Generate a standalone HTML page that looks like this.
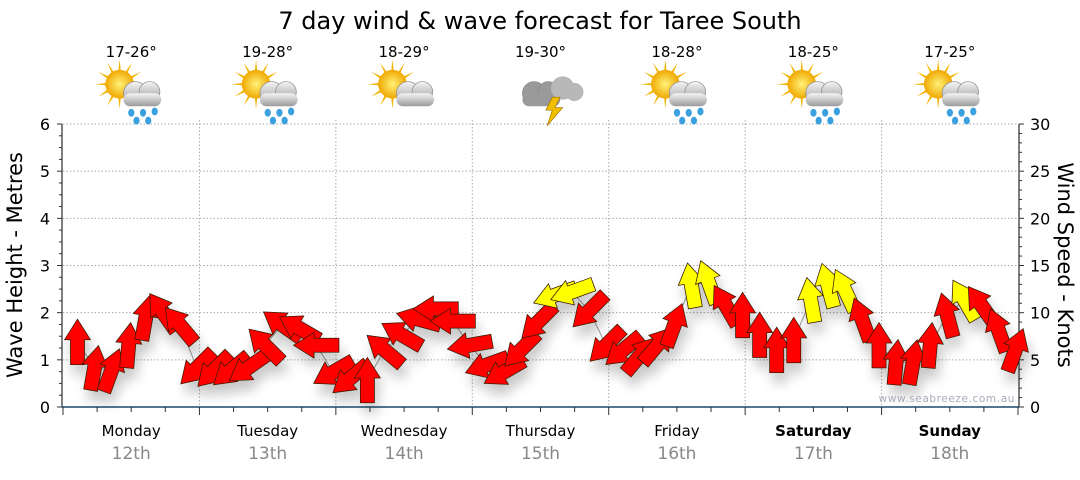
<!DOCTYPE html>
<html><head><meta charset="utf-8">
<style>
html,body{margin:0;padding:0;background:#fff;}
body{width:1080px;height:475px;overflow:hidden;font-family:"Liberation Sans",sans-serif;}
text{font-family:"DejaVu Sans","Liberation Sans",sans-serif;}
</style></head>
<body>
<svg id="chart" width="1080" height="475" xmlns="http://www.w3.org/2000/svg">
<defs>
<filter id="shadow" x="-20%" y="-20%" width="140%" height="160%">
<feGaussianBlur in="SourceAlpha" stdDeviation="6"/>
<feOffset dx="3" dy="10"/>
<feComponentTransfer><feFuncA type="linear" slope="0.22"/></feComponentTransfer>
<feMerge><feMergeNode/><feMergeNode in="SourceGraphic"/></feMerge>
</filter>
<radialGradient id="sunG" cx="0.5" cy="0.5" r="0.5"><stop offset="0" stop-color="#fff27a"/><stop offset="1" stop-color="#f0a800"/></radialGradient>
<linearGradient id="cloudG" x1="0" y1="0" x2="0" y2="1"><stop offset="0" stop-color="#f4f4f4"/><stop offset="1" stop-color="#9a9a9a"/></linearGradient>
</defs>
<text x="540" y="29" text-anchor="middle" font-size="24" fill="#000">7 day wind &amp; wave forecast for Taree South</text>
<g id="grid"></g>
<g id="days"></g>
<g id="axes"></g>
<g id="wl"></g>
<g id="arrows" filter="url(#shadow)"></g>
<text x="1015" y="402" text-anchor="end" font-size="10.5" fill="#aab" letter-spacing="0.6">www.seabreeze.com.au</text>
<text transform="translate(22,265) rotate(-90)" text-anchor="middle" font-size="21" fill="#000">Wave Height - Metres</text>
<text transform="translate(1058,265) rotate(90)" text-anchor="middle" font-size="21" fill="#000">Wind Speed - Knots</text>
</svg>
<script>
const dayNames = ["Monday","Tuesday","Wednesday","Thursday","Friday","Saturday","Sunday"];
const dayDates = ["12th","13th","14th","15th","16th","17th","18th"];
const dayBold = [false,false,false,false,false,true,true];
const tempRanges = ["17-26°","19-28°","18-29°","19-30°","18-28°","18-25°","17-25°"];
const weatherIcons = ["rain","rain","cloud","storm","rain","rain","rain"];
const waveTicks = [0,1,2,3,4,5,6];
const windTicks = [0,5,10,15,20,25,30];
// wave height (m) per 3-hour step
const waveHeights = [1.38,0.83,0.78,1.31,1.89,2.01,1.74,0.83,0.78,0.78,0.83,1.31,1.74,1.67,1.31,0.74,0.61,0.57,1.21,1.53,1.86,2.08,1.82,1.31,0.89,0.74,1.21,1.8,2.37,2.44,2.04,1.31,1.21,1.1,1.31,1.74,2.58,2.65,2.16,1.95,1.53,1.21,1.42,2.27,2.58,2.48,1.86,1.31,0.95,0.95,1.31,1.95,2.27,2.16,1.63,1.21];
// arrow pointing direction, degrees clockwise from up
const windDirs = [0,10,20,5,10,-35,-40,225,225,230,235,-45,-55,-60,-90,-120,-130,0,-50,-60,-75,-90,-90,-100,-110,-120,-135,-135,-110,-110,-135,-135,-130,40,40,20,-10,-20,-30,0,0,0,0,-10,-15,-25,-20,0,5,10,5,-15,-30,-35,-20,20];
const windColors = ["R","R","R","R","R","R","R","R","R","R","R","R","R","R","R","R","R","R","R","R","R","R","R","R","R","R","R","R","Y","Y","R","R","R","R","R","R","Y","Y","R","R","R","R","R","Y","Y","Y","R","R","R","R","R","R","Y","R","R","R"];

const NS="http://www.w3.org/2000/svg";
const X0=63,X1=1018,Y0=407,Y1=124;
const nSteps=56;
function xStep(i){return X0+(X1-X0)/nSteps*(i+0.85);}
function yWave(m){return Y0-(m/6)*(Y0-Y1);}
function yWind(k){return Y0-(k/30)*(Y0-Y1);}
function xDay(d){return X0+(X1-X0)/7*d;}
function el(tag,attrs,parent){const e=document.createElementNS(NS,tag);for(const k in attrs)e.setAttribute(k,attrs[k]);parent.appendChild(e);return e;}
const grid=document.getElementById('grid'),axes=document.getElementById('axes'),days=document.getElementById('days'),arrows=document.getElementById('arrows');

waveTicks.forEach(v=>{if(v===0)return;const g=el('line',{x1:X0,x2:X1,y1:yWave(v),y2:yWave(v),stroke:'#aaa','stroke-dasharray':'1.5,2'},grid);

});
for(let d=1;d<7;d++){const g=el('line',{x1:xDay(d),x2:xDay(d),y1:Y1-4,y2:Y0,stroke:'#aaa','stroke-dasharray':'1.5,2'},grid);

}

el('line',{x1:X0-1,x2:X0-1,y1:Y1,y2:Y0,stroke:'#000'},axes);
for(let i=0;i<=24;i++){const y=yWave(i/4);el('line',{x1:X0-(i%4===0?6:4),x2:X0-1,y1:y,y2:y,stroke:'#333'},axes);}
waveTicks.forEach(v=>{const t=el('text',{x:X0-13,y:yWave(v)+6,'text-anchor':'end','font-size':16,fill:'#000'},axes);t.textContent=v;

});
el('line',{x1:X1+1,x2:X1+1,y1:Y1,y2:Y0,stroke:'#000'},axes);
for(let k=0;k<=30;k++){const y=yWind(k);el('line',{x1:X1+1,x2:X1+(k%5===0?6:4),y1:y,y2:y,stroke:'#333'},axes);}
windTicks.forEach(v=>{const t=el('text',{x:X1+12,y:yWind(v)+6,'text-anchor':'start','font-size':16,fill:'#000'},axes);t.textContent=v;

});
el('line',{x1:X0-1,x2:X1+1,y1:Y0,y2:Y0,stroke:'#1a4a6e','stroke-width':1.5},axes);
for(let q=0;q<=28;q++){const x=X0+(X1-X0)/28*q;el('line',{x1:x,x2:x,y1:Y0,y2:Y0+(q%4===0?8:5),stroke:'#333'},axes);}

dayNames.forEach((n,d)=>{const cx=xDay(d)+(X1-X0)/14;
const t=el('text',{x:cx,y:436,'text-anchor':'middle','font-size':15,fill:'#000','font-weight':dayBold[d]?'bold':'normal'},days);t.textContent=n;


const t2=el('text',{x:cx,y:459,'text-anchor':'middle','font-size':17,fill:'#888'},days);t2.textContent=dayDates[d];


const t3=el('text',{x:cx,y:57,'text-anchor':'middle','font-size':15,fill:'#000'},days);t3.textContent=tempRanges[d];


const g=el('g',{transform:`translate(${cx+4},92) scale(1.3)`},days);


const type=weatherIcons[d];
if(type!=='storm'){
 for(let r=0;r<12;r++){const a=r*30*Math.PI/180;el('polygon',{points:`${-12+Math.cos(a-0.12)*9},${-6+Math.sin(a-0.12)*9} ${-12+Math.cos(a+0.12)*9},${-6+Math.sin(a+0.12)*9} ${-12+Math.cos(a)*19},${-6+Math.sin(a)*19}`,fill:'#f2b400'},g);}
 el('circle',{cx:-12,cy:-6,r:11,fill:'url(#sunG)'},g);
}
const cc=type==='storm'?'#9a9a9a':'url(#cloudG)';
const ox=type==='storm'?-8:0;
el('circle',{cx:0+ox,cy:1,r:9,fill:cc,stroke:'#888','stroke-width':0.5},g);
el('circle',{cx:11+ox,cy:0,r:8,fill:cc,stroke:'#888','stroke-width':0.5},g);
el('rect',{x:-9+ox,y:1,width:29,height:10,rx:5,fill:cc},g);
if(type==='storm'){el('circle',{cx:14,cy:-3,r:9,fill:'#b8b8b8'},g);el('circle',{cx:23,cy:0,r:7,fill:'#b8b8b8'},g);
 el('polygon',{points:'6,4 12,4 8,12 14,12 2,26 6,14 1,14',fill:'#f0c000',stroke:'#a07000','stroke-width':0.5},g);}
if(type==='rain'){[[-3,16],[6,16],[15,15],[1,22],[10,22]].forEach(p=>el('ellipse',{cx:p[0],cy:p[1],rx:2.4,ry:3,fill:'#3aa0e0'},g));}
});

const pl=el('polyline',{points:waveHeights.map((h,i)=>xStep(i)+','+yWave(h)).join(' '),stroke:'#999',fill:'none'},document.getElementById('wl'));


waveHeights.forEach((h,i)=>{
 const a=el('polygon',{points:'-6.5,21 6.5,21 6.5,-2 12,-2 0,-21 -12,-2 -6.5,-2',
 transform:`translate(${xStep(i)},${yWave(h)}) rotate(${windDirs[i]}) scale(1.08)`,
 fill:windColors[i]==='Y'?'#ffff00':'#ff0000',stroke:'#3a1a00','stroke-width':0.7},arrows);
 
 
});
</script>
</body></html>
